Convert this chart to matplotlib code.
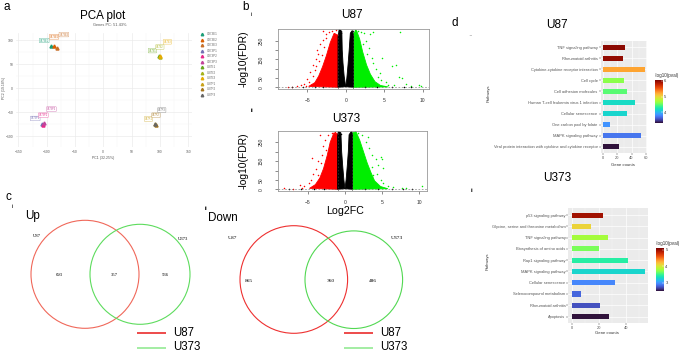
import matplotlib
matplotlib.use('Agg')
import matplotlib.pyplot as plt
import numpy as np
from matplotlib.patches import Ellipse
from matplotlib import colors as mcolors

plt.rcParams['font.family'] = ['Liberation Sans', 'DejaVu Sans']

# ---------------- DATA ----------------
# PCA
pca_samples = ['U373E1', 'U373E2', 'U373E3', 'U373P1', 'U373P2', 'U373P3',
               'U87E1', 'U87E2', 'U87E3', 'U87P1', 'U87P2', 'U87P3']
pca_pc1 = [-92, -87, -82, -108, -106, -104, 99, 100, 101, 92, 93, 91]
pca_pc2 = [88, 87, 83, -74, -76, -72, 67, 66, 68, -75, -76, -74]
pca_colors = ['#1B9E77', '#D95F02', '#C8702A', '#7570B3', '#E7298A', '#C2459A',
              '#66A61E', '#A6B21A', '#E6AB02', '#C9A21A', '#A6761D', '#666666']

# Volcano U87 (dense envelopes + sparse points)
u87_red_env_x = [-1.0, -1.0, -1.5, -2.0, -2.5, -3.0, -3.5, -4.0, -4.8, -1.0]
u87_red_env_y = [0, 280, 290, 240, 170, 110, 60, 25, 5, 0]
u87_blk_left_x = [-1.0, -1.0, -0.85, -0.5, -0.45, -0.35, -0.2, 0.0, -1.0]
u87_blk_left_y = [0, 270, 310, 300, 200, 130, 60, 3, 0]
u87_blk_right_x = [1.0, 1.0, 0.85, 0.6, 0.45, 0.3, 0.15, 0.0, 1.0]
u87_blk_right_y = [0, 280, 305, 290, 200, 120, 50, 3, 0]
u87_grn_env_x = [1.0, 1.0, 1.4, 1.8, 2.2, 2.7, 3.2, 3.8, 4.5, 5.5, 1.0]
u87_grn_env_y = [0, 290, 305, 260, 190, 120, 70, 30, 10, 2, 0]
u87_red_x = [-1.3, -1.8, -2.2, -2.6, -3.0, -2.9, -3.3, -2.8, -3.6, -3.9, -3.4, -4.2, -4.0, -4.6,
             -4.3, -5.0, -4.8, -5.4, -5.8, -6.3, -6.9, -7.5, -5.2, -4.5, -3.7, -2.5, -3.1, -3.8]
u87_red_y = [308, 300, 295, 285, 300, 255, 230, 215, 180, 150, 140, 120, 95, 80,
             60, 45, 30, 20, 12, 6, 3, 2, 8, 15, 200, 265, 175, 115]
u87_grn_x = [1.2, 1.6, 2.0, 2.4, 3.2, 3.6, 7.0, 2.6, 3.0, 2.8, 3.4, 4.75, 6.0, 6.5, 3.9,
             4.5, 4.2, 4.6, 5.2, 6.9, 7.3, 7.8, 6.2, 5.5, 9.5, 9.8, 8.5, 3.5, 2.2]
u87_grn_y = [308, 300, 296, 290, 286, 296, 296, 250, 210, 180, 160, 160, 114, 120, 100,
             78, 55, 39, 30, 57, 50, 20, 10, 15, 12, 8, 5, 130, 230]
u87_blk_x = [-0.6, -0.7, 0.9, 0.75, -7.0, -5.5, -4.0, -3.0, 2.5, 4.0, 6.0, 7.5, 8.5]
u87_blk_y = [290, 305, 300, 295, 0.5, 0.8, 1.0, 0.6, 0.7, 0.5, 0.8, 0.4, 0.6]

# Volcano U373
u373_red_env_x = [-1.0, -1.0, -1.5, -2.0, -2.4, -2.9, -3.4, -4.0, -4.8, -1.0]
u373_red_env_y = [0, 295, 300, 250, 180, 110, 60, 25, 5, 0]
u373_blk_left_x = [-1.0, -1.0, -0.9, -0.55, -0.45, -0.3, -0.15, 0.0, -1.0]
u373_blk_left_y = [0, 280, 310, 300, 200, 120, 50, 3, 0]
u373_blk_right_x = [1.0, 1.0, 0.9, 0.55, 0.45, 0.3, 0.15, 0.0, 1.0]
u373_blk_right_y = [0, 290, 310, 290, 200, 120, 50, 3, 0]
u373_grn_env_x = [1.0, 1.0, 1.5, 2.0, 2.5, 3.0, 3.5, 4.0, 4.8, 5.8, 1.0]
u373_grn_env_y = [0, 300, 305, 260, 200, 140, 90, 45, 15, 3, 0]
u373_red_x = [-1.3, -1.8, -2.3, -3.4, -2.7, -3.0, -2.6, -4.5, -3.6, -3.2, -3.9, -4.3, -3.7,
              -4.9, -6.1, -5.5, -8.3, -7.0, -5.8, -4.6, -3.1]
u373_red_y = [305, 300, 290, 288, 260, 230, 210, 168, 150, 140, 110, 80, 75,
              32, 23, 15, 5, 3, 8, 50, 185]
u373_grn_x = [1.3, 1.8, 2.3, 3.1, 2.8, 3.3, 4.8, 5.0, 4.2, 3.7, 5.2, 4.5, 3.8, 4.3, 5.2,
              5.8, 7.7, 8.3, 10.4, 6.5, 4.9, 3.6]
u373_grn_y = [308, 300, 290, 280, 250, 220, 173, 160, 160, 180, 112, 130, 76, 81, 32,
              20, 5, 8, 19, 10, 50, 120]
u373_blk_x = [-0.6, -0.75, 0.8, 0.65, -7.5, -6.0, -4.2, -2.8, 2.7, 4.5, 6.3, 7.9, 9.0]
u373_blk_y = [295, 305, 300, 290, 0.5, 0.8, 1.0, 0.6, 0.7, 0.5, 0.8, 0.4, 0.6]

# Venn counts
up_counts = [693, 357, 536]
down_counts = [865, 360, 486]

# KEGG bars
u87_paths = ['TNF signaling pathway', 'Rheumatoid arthritis',
             'Cytokine-cytokine receptor interaction', 'Cell cycle',
             'Cell adhesion molecules', 'Human T-cell leukemia virus 1 infection',
             'Cellular senescence', 'One carbon pool by folate', 'MAPK signaling pathway',
             'Viral protein interaction with cytokine and cytokine receptor']
u87_counts = [31, 28, 58, 30, 33, 45, 34, 10, 53, 23]
u87_logp = [5.99, 5.97, 5.24, 4.62, 4.48, 4.19, 4.16, 3.86, 3.73, 3.35]
u373_paths = ['p53 signaling pathway', 'Glycine, serine and threonine metabolism',
              'TNF signaling pathway', 'Biosynthesis of amino acids',
              'Rap1 signaling pathway', 'MAPK signaling pathway', 'Cellular senescence',
              'Selenocompound metabolism', 'Rheumatoid arthritis', 'Apoptosis']
u373_counts = [23, 14, 27, 20, 42, 54, 32, 7, 21, 28]
u373_logp = [4.97, 4.11, 3.80, 3.67, 3.44, 3.28, 2.94, 2.81, 2.73, 2.50]

# ---------------- LAYOUT ----------------
W, H = 685, 353
fig = plt.figure(figsize=(6.85, 3.53), dpi=100)
fig.patch.set_facecolor('white')


def ax_px(l, t, r, b):
    return fig.add_axes([l / W, 1 - b / H, (r - l) / W, (b - t) / H])


# ---- a: PCA ----
axp = ax_px(16, 33, 192, 147)
axp.set_xlim(-154.2, 156.7)
axp.set_ylim(-122, 115)
axp.set_xticks([-150, -100, -50, 0, 50, 100, 150])
axp.set_yticks([-100, -50, 0, 50, 100])
axp.set_xticks([-125, -75, -25, 25, 75, 125], minor=True)
axp.set_yticks([-75, -25, 25, 75], minor=True)
axp.grid(True, which='major', color='#EBEBEB', lw=0.5)
axp.grid(True, which='minor', color='#F4F4F4', lw=0.3)
axp.set_axisbelow(True)
for s in axp.spines.values():
    s.set_visible(False)
axp.tick_params(which='both', length=0, labelsize=2.4, colors='#5A5A5A', pad=2)
for i, (x, y, c, lab) in enumerate(zip(pca_pc1, pca_pc2, pca_colors, pca_samples)):
    k = i % 3
    axp.plot(x, y, marker='^', ms=2.2, color=c, mec=c, lw=0)
    axp.annotate(lab, (x, y), xytext=(-5 + 5 * k, 2.5 + 3.0 * k), textcoords='offset points',
                 fontsize=1.8, ha='center', va='bottom', color=c,
                 bbox=dict(boxstyle='round,pad=0.12', fc='white', ec=c, lw=0.25, alpha=0.9))


def volcano(ax, rex, rey, blx, bly, brx, bry, gex, gey, rx, ry, gx, gy, kx, ky, xl, yl):
    ax.fill(rex, rey, color='#FF0000', lw=0.6, ec='#FF0000')
    ax.fill(gex, gey, color='#00EE00', lw=0.6, ec='#00EE00')
    ax.fill(blx, bly, color='black', lw=0.6, ec='black')
    ax.fill(brx, bry, color='black', lw=0.6, ec='black')
    ax.scatter(rx, ry, s=1.2, c='#FF0000', lw=0)
    ax.scatter(gx, gy, s=1.2, c='#00EE00', lw=0)
    ax.scatter(kx, ky, s=1.2, c='black', lw=0)
    ax.axvline(-1, color='#444444', lw=0.4, ls=(0, (3, 3)))
    ax.axvline(1, color='#444444', lw=0.4, ls=(0, (3, 3)))
    ax.axhline(1.3, color='#666666', lw=0.4, ls=(0, (3, 3)))
    ax.set_xlim(*xl)
    ax.set_ylim(*yl)
    ax.set_xticks([-5, 0, 5, 10])
    ax.set_yticks([0, 50, 100, 150, 200, 250])
    ax.set_yticklabels(['0', '50', '', '150', '', '250'], rotation=90, va='center')
    ax.tick_params(length=2.0, width=0.4, labelsize=3.6, colors='#333333')
    ax.tick_params(axis='x', pad=4.5)
    ax.tick_params(axis='y', pad=8.5)
    for s in ax.spines.values():
        s.set_color('#999999')
        s.set_linewidth(0.6)


av1 = ax_px(278, 29, 429, 89)
volcano(av1, u87_red_env_x, u87_red_env_y, u87_blk_left_x, u87_blk_left_y,
        u87_blk_right_x, u87_blk_right_y, u87_grn_env_x, u87_grn_env_y,
        u87_red_x, u87_red_y, u87_grn_x, u87_grn_y, u87_blk_x, u87_blk_y,
        (-8.77, 10.79), (-9.1, 313))
av2 = ax_px(278, 130.7, 427, 191)
volcano(av2, u373_red_env_x, u373_red_env_y, u373_blk_left_x, u373_blk_left_y,
        u373_blk_right_x, u373_blk_right_y, u373_grn_env_x, u373_grn_env_y,
        u373_red_x, u373_red_y, u373_grn_x, u373_grn_y, u373_blk_x, u373_blk_y,
        (-9.05, 11.08), (-9.0, 311.7))

# ---- d: KEGG bars ----
cmap = plt.get_cmap('turbo')


def kegg(ax, paths, counts, logp, vmin, vmax, xl, xt):
    norm = mcolors.Normalize(vmin=vmin, vmax=vmax)
    n = len(paths)
    ypos = np.arange(n)
    ax.set_facecolor('#EBEBEB')
    ax.barh(ypos, counts, height=0.45, color=cmap(norm(np.array(logp))), zorder=3)
    ax.set_ylim(n - 1 + 0.6, -0.6)
    ax.set_xlim(*xl)
    ax.set_xticks(xt)
    step = xt[1] - xt[0]
    minors = [v + step / 2 for v in xt if v + step / 2 < xl[1]]
    ax.set_xticks(minors, minor=True)
    ax.set_yticks(ypos)
    ax.set_yticklabels(paths)
    ax.grid(True, which='major', color='white', lw=0.5, zorder=0)
    ax.grid(True, which='minor', axis='x', color='#F5F5F5', lw=0.3, zorder=0)
    ax.set_axisbelow(True)
    for s in ax.spines.values():
        s.set_visible(False)
    ax.tick_params(which='major', length=1.2, width=0.3, colors='#333333', labelsize=2.9, pad=0.8)
    ax.tick_params(which='minor', length=0)
    for lab in ax.get_yticklabels() + ax.get_xticklabels():
        lab.set_color('#555555')
    return norm


ab1 = ax_px(600.5, 40.7, 646.7, 153.3)
n1 = kegg(ab1, u87_paths, u87_counts, u87_logp, 3.35, 6.05, (-3.05, 61), [0, 20, 40, 60])
ab2 = ax_px(568.3, 208.3, 648.3, 323.3)
n2 = kegg(ab2, u373_paths, u373_counts, u373_logp, 2.5, 5.1, (-2.5, 56.8), [0, 20, 40])

for (l, t, r, b), norm, ticks in [((655, 80, 662.7, 122.7), n1, [4, 5, 6]),
                                  ((656, 248.3, 664, 291), n2, [3, 4, 5])]:
    cax = ax_px(l, t, r, b)
    sm = plt.cm.ScalarMappable(norm=norm, cmap=cmap)
    cb = fig.colorbar(sm, cax=cax, ticks=ticks)
    cb.outline.set_visible(False)
    cb.ax.tick_params(length=1.5, width=0.3, color='white', labelsize=3.0, pad=1,
                      labelcolor='#333333', direction='in')

# ---- overlay for text & venn ----
ov = fig.add_axes([0, 0, 1, 1])
ov.set_xlim(0, W)
ov.set_ylim(H, 0)
ov.axis('off')
ov.patch.set_visible(False)


def T(x, y, s, size, **kw):
    kw.setdefault('ha', 'center')
    kw.setdefault('va', 'center')
    ov.text(x, y, s, fontsize=size, **kw)


# letters
T(7, 7, 'a', 8.5)
T(245.5, 7, 'b', 8.5)
T(8.5, 196.5, 'c', 8.5)
T(455, 23, 'd', 8.5)
T(251, 15, 'i', 4.5)
T(252, 110, 'ii', 4.5)
T(12.7, 207, 'i', 4.5)
T(205.7, 208.3, 'ii', 4.5)
T(472, 35, 'i', 2.5, color='#555555', rotation=90)
T(472.5, 190, 'ii', 4.5, color='#333333')

# PCA texts
T(103, 16, 'PCA plot', 8.4)
T(110, 25, 'Genes PC: 51.43%', 2.8, color='#555555')
T(103, 158.5, 'PC1 (32.25%)', 2.5, color='#555555')
T(4, 88, 'PC2 (19.18%)', 2.5, color='#555555', rotation=90)
for i, (lab, c) in enumerate(zip(pca_samples, pca_colors)):
    yy = 34.3 + 5.5 * i
    ov.plot(201.7, yy, marker='^', ms=1.8, color=c, lw=0)
    T(206.7, yy, lab, 2.2, ha='left', color='#666666')

# Volcano texts
T(352, 15, 'U87', 8.5)
T(346, 119, 'U373', 8.5)
T(244, 59, '-log10(FDR)', 7.4, rotation=90)
T(244, 161, '-log10(FDR)', 7.4, rotation=90)
T(345, 210.5, 'Log2FC', 7.7)

# Venn
serif = ['Liberation Serif', 'DejaVu Serif']
venns = [
    dict(title='Up', tpos=(32.7, 216), lab1=(36.7, 236), lab2=(183, 239), c1=(85, 274.3), r1=54,
         c2=(140, 274.3), r2=50, npos=[(59.3, 275), (114, 275), (165, 275)], counts=up_counts,
         fs=3.4, leg=(137.3, 165.7, 173), red='#F0685A', grn='#5EDC5E'),
    dict(title='Down', tpos=(223, 218), lab1=(232.3, 238.3), lab2=(396.7, 238.3), c1=(293.8, 279.5),
         r1=53.8, c2=(353.8, 279.7), r2=48.8, npos=[(248.3, 281), (330.7, 281), (373.3, 281)],
         counts=down_counts, fs=3.9, leg=(344.3, 372.7, 380), red='#EE3030', grn='#52D852'),
]
for v in venns:
    T(*v['tpos'], v['title'], 8.4)
    T(*v['lab1'], 'U87', v['fs'], family=serif)
    T(*v['lab2'], 'U373', v['fs'], family=serif)
    ov.add_patch(Ellipse(v['c1'], 2 * v['r1'], 2 * v['r1'], fill=False, ec=v['red'], lw=0.8))
    ov.add_patch(Ellipse(v['c2'], 2 * v['r2'], 2 * v['r2'], fill=False, ec=v['grn'], lw=0.8))
    for (x, y), n in zip(v['npos'], v['counts']):
        T(x, y, str(n), v['fs'], family=serif)
    x0, x1, xt = v['leg']
    ov.plot([x0, x1], [332.7, 332.7], color='#E81A1A', lw=1.1, solid_capstyle='butt')
    ov.plot([x0, x1], [347.5, 347.5], color='#8AE88A', lw=1.1, solid_capstyle='butt')
    T(xt, 332.7, 'U87', 8.3, ha='left')
    T(xt, 347.5, 'U373', 8.3, ha='left')

# KEGG texts
T(556.7, 25, 'U87', 8.5)
T(556.7, 178.3, 'U373', 8.5)
T(488.3, 93.3, 'Pathways', 2.9, rotation=90, color='#333333')
T(487.7, 261.7, 'Pathways', 2.9, rotation=90, color='#333333')
T(622.7, 165, 'Gene counts', 3.1, color='#333333')
T(606.7, 333.3, 'Gene counts', 3.1, color='#333333')
T(655, 76, '-log10(pval)', 3.3, ha='left', color='#333333')
T(656, 243.5, '-log10(pval)', 3.3, ha='left', color='#333333')

fig.savefig('out.png', dpi=100)
